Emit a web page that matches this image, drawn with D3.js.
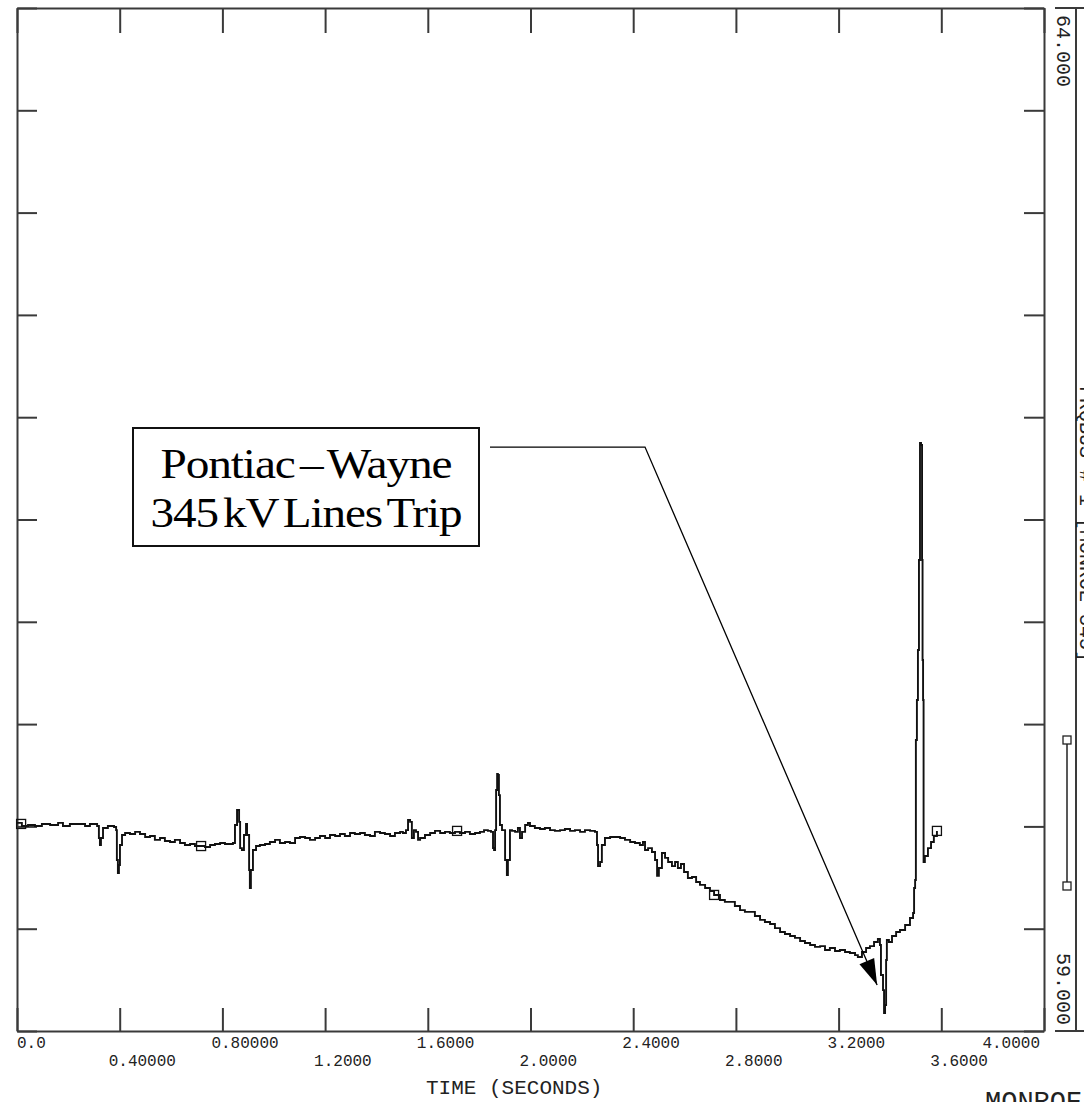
<!DOCTYPE html>
<html>
<head>
<meta charset="utf-8">
<script src="https://cdn.jsdelivr.net/npm/d3@7"></script>
<style>
  html, body { margin: 0; padding: 0; background: #fff; overflow: hidden; }
  svg { display: block; }
  .mono { font-family: "Liberation Mono", "Courier New", monospace; fill: #222; }
</style>
</head>
<body>
<svg id="chart" width="1084" height="1102"></svg>
<script>
// ---- data (time in seconds, frequency in Hz) ----
const time = [0,0.019,0.043,0.070,0.097,0.129,0.160,0.179,0.206,0.238,0.265,0.284,0.308,0.312,0.319,0.323,0.327,0.335,0.354,0.378,0.386,0.389,0.393,0.397,0.401,0.409,0.421,0.440,0.460,0.479,0.499,0.518,0.537,0.557,0.576,0.596,0.615,0.635,0.654,0.674,0.693,0.713,0.732,0.752,0.771,0.791,0.810,0.830,0.841,0.849,0.857,0.865,0.869,0.876,0.884,0.892,0.896,0.904,0.907,0.911,0.919,0.931,0.946,0.966,0.985,1.005,1.024,1.044,1.063,1.083,1.102,1.122,1.141,1.161,1.180,1.200,1.219,1.239,1.258,1.277,1.297,1.316,1.336,1.355,1.375,1.394,1.414,1.433,1.453,1.472,1.492,1.503,1.515,1.523,1.531,1.538,1.546,1.554,1.562,1.570,1.589,1.609,1.628,1.648,1.667,1.686,1.706,1.725,1.745,1.764,1.784,1.803,1.819,1.834,1.846,1.854,1.858,1.862,1.866,1.870,1.873,1.877,1.881,1.889,1.901,1.908,1.912,1.920,1.928,1.940,1.951,1.959,1.967,1.979,1.990,1.998,2.017,2.037,2.056,2.076,2.095,2.115,2.134,2.154,2.173,2.193,2.212,2.232,2.251,2.259,2.263,2.271,2.278,2.290,2.310,2.329,2.349,2.368,2.388,2.407,2.426,2.438,2.446,2.458,2.473,2.485,2.493,2.500,2.512,2.524,2.536,2.551,2.563,2.574,2.586,2.598,2.613,2.629,2.645,2.660,2.680,2.699,2.715,2.738,2.757,2.777,2.796,2.816,2.835,2.855,2.874,2.894,2.913,2.933,2.952,2.972,2.991,3.011,3.030,3.050,3.069,3.089,3.108,3.128,3.147,3.166,3.186,3.205,3.225,3.244,3.264,3.275,3.291,3.307,3.322,3.338,3.353,3.361,3.365,3.373,3.377,3.381,3.385,3.388,3.396,3.408,3.424,3.439,3.459,3.478,3.490,3.494,3.498,3.501,3.505,3.509,3.513,3.517,3.521,3.525,3.527,3.529,3.531,3.536,3.548,3.560,3.571,3.583];
const freq = [60.017,60.002,60.007,60.002,60.012,60.007,60.017,60.002,60.012,60.012,60.002,60.012,60.012,60.002,59.943,59.909,59.943,59.992,60.002,59.997,59.982,59.836,59.772,59.811,59.909,59.958,59.968,59.963,59.973,59.963,59.948,59.953,59.934,59.943,59.929,59.924,59.934,59.919,59.909,59.914,59.904,59.904,59.899,59.909,59.914,59.919,59.914,59.914,59.919,60.007,60.080,60.022,59.894,59.885,59.958,60.012,59.958,59.787,59.699,59.787,59.885,59.904,59.909,59.914,59.924,59.934,59.919,59.924,59.919,59.943,59.948,59.943,59.934,59.943,59.953,59.943,59.958,59.953,59.963,59.953,59.968,59.963,59.968,59.958,59.953,59.973,59.968,59.963,59.953,59.968,59.973,59.968,59.982,60.031,60.022,59.943,59.982,59.973,59.934,59.943,59.958,59.968,59.978,59.968,59.973,59.968,59.973,59.968,59.973,59.963,59.968,59.973,59.982,59.978,59.973,59.894,59.885,59.982,60.178,60.256,60.251,60.153,60.007,59.982,59.836,59.762,59.836,59.982,59.978,59.973,59.992,59.943,59.973,60.007,60.017,60.002,59.992,59.987,59.992,59.982,59.978,59.982,59.987,59.978,59.982,59.973,59.982,59.978,59.973,59.909,59.806,59.826,59.909,59.943,59.948,59.948,59.943,59.934,59.924,59.919,59.909,59.924,59.885,59.894,59.875,59.836,59.758,59.797,59.870,59.846,59.826,59.806,59.826,59.797,59.816,59.777,59.748,59.753,59.728,59.714,59.699,59.684,59.665,59.640,59.631,59.631,59.611,59.591,59.582,59.582,59.562,59.543,59.533,59.523,59.503,59.484,59.474,59.464,59.455,59.440,59.430,59.420,59.411,59.415,59.396,59.406,59.391,59.396,59.386,59.381,59.371,59.362,59.386,59.406,59.415,59.435,59.450,59.420,59.274,59.200,59.088,59.127,59.347,59.445,59.435,59.464,59.484,59.494,59.518,59.552,59.577,59.699,59.738,60.422,60.618,60.862,61.302,61.874,61.864,61.302,60.813,60.618,59.826,59.855,59.894,59.924,59.953,59.978];

// symbol markers placed on the trace
const markerTime = [0.016, 0.717, 1.714, 2.715, 3.583];
const markerFreq = [60.012, 59.904, 59.978, 59.665, 59.978];

// axis ticks and labels
const xTicks = [0, 0.4, 0.8, 1.2, 1.6, 2.0, 2.4, 2.8, 3.2, 3.6, 4.0];
const xTickLabels = ["0.0", "0.40000", "0.80000", "1.2000", "1.6000", "2.0000", "2.4000", "2.8000", "3.2000", "3.6000", "4.0000"];
const yTicks = [59, 59.5, 60, 60.5, 61, 61.5, 62, 62.5, 63, 63.5, 64];
const yMinLabel = "59.000";
const yMaxLabel = "64.000";
const xTitle = "TIME (SECONDS)";
const channelLabel = "FRQBUS # 1  [MONROE 345]";
const footerText = "MONROE";
const annotationLines = ["Pontiac \u2013 Wayne", "345 kV Lines Trip"];
const annotationTarget = { t: 3.350, f: 59.225 };
const annotationElbow = { t: 2.446, f: 61.854 };

// ---- drawing ----
const svg = d3.select("#chart");
const L = 17, R = 1044, T = 8, B = 1031;
const x = d3.scaleLinear().domain([0, 4]).range([L, R]);
const y = d3.scaleLinear().domain([59, 64]).range([B, T]);
const axisColor = "#3a3a3a";

function styleAxis(g) {
  g.selectAll(".domain").attr("stroke", axisColor).attr("stroke-width", 2);
  g.selectAll(".tick line").attr("stroke", axisColor).attr("stroke-width", 2);
  g.selectAll(".tick text").remove();
}

svg.append("g").attr("transform", `translate(0,${B})`)
  .call(d3.axisBottom(x).tickValues(xTicks).tickSizeInner(-23).tickSizeOuter(0).tickFormat(""))
  .call(styleAxis);
svg.append("g").attr("transform", `translate(0,${T})`)
  .call(d3.axisTop(x).tickValues(xTicks).tickSizeInner(-25).tickSizeOuter(0).tickFormat(""))
  .call(styleAxis);
svg.append("g").attr("transform", `translate(${L},0)`)
  .call(d3.axisLeft(y).tickValues(yTicks).tickSizeInner(-20).tickSizeOuter(0).tickFormat(""))
  .call(styleAxis);
svg.append("g").attr("transform", `translate(${R},0)`)
  .call(d3.axisRight(y).tickValues(yTicks).tickSizeInner(-20).tickSizeOuter(0).tickFormat(""))
  .call(styleAxis);

// x tick labels, alternating two rows
svg.append("g").selectAll("text").data(xTicks).join("text")
  .attr("class", "mono")
  .attr("font-size", 16)
  .attr("x", (d, i) => i === 0 ? x(d) : (i === xTicks.length - 1 ? x(d) - 4 : x(d) - 11))
  .attr("text-anchor", (d, i) => i === xTicks.length - 1 ? "end" : "start")
  .attr("y", (d, i) => i % 2 === 0 ? 1048 : 1066)
  .text((d, i) => xTickLabels[i]);

svg.append("text").attr("class", "mono").attr("font-size", 21)
  .attr("x", 426).attr("y", 1094).text(xTitle);

// right secondary scale bar
const sx = 1076;
svg.append("line").attr("x1", sx).attr("x2", sx).attr("y1", y(64)).attr("y2", y(59))
  .attr("stroke", axisColor).attr("stroke-width", 2);
[64, 59].forEach(v => {
  svg.append("line").attr("x1", 1055).attr("x2", 1084).attr("y1", y(v)).attr("y2", y(v))
    .attr("stroke", axisColor).attr("stroke-width", 2);
});
svg.append("text").attr("class", "mono").attr("font-size", 20)
  .attr("transform", `translate(1057,${y(64) + 7}) rotate(90)`)
  .text(yMaxLabel);
svg.append("text").attr("class", "mono").attr("font-size", 20)
  .attr("text-anchor", "end")
  .attr("transform", `translate(1057,${y(59) - 6}) rotate(90)`)
  .text(yMinLabel);
svg.append("text").attr("class", "mono").attr("font-size", 20)
  .attr("transform", `translate(1080,386) rotate(90)`)
  .text(channelLabel);

// legend pen indicator
const legTop = 740, legBot = 886, legX = 1067;
svg.append("line").attr("x1", legX).attr("x2", legX).attr("y1", legTop).attr("y2", legBot)
  .attr("stroke", "#222").attr("stroke-width", 1.5);
[legTop, legBot].forEach(yy => {
  svg.append("rect").attr("x", legX - 4).attr("y", yy - 4).attr("width", 8).attr("height", 8)
    .attr("fill", "#fff").attr("stroke", "#222").attr("stroke-width", 1.3);
});

// trace
const pts = time.map((t, i) => [t, freq[i]]);
svg.append("path").datum(pts)
  .attr("fill", "none").attr("stroke", "#111").attr("stroke-width", 1.9)
  .attr("stroke-linejoin", "miter")
  .attr("d", d3.line().curve(d3.curveStepAfter).x(d => x(d[0])).y(d => y(d[1])));

svg.append("g").selectAll("rect").data(markerTime).join("rect")
  .attr("x", d => x(d) - 4.5).attr("y", (d, i) => y(markerFreq[i]) - 4.5)
  .attr("width", 9).attr("height", 9)
  .attr("fill", "none").attr("stroke", "#111").attr("stroke-width", 1.3);

// annotation
const box = { x: 133, y: 428, w: 346, h: 118 };
svg.append("rect").attr("x", box.x).attr("y", box.y).attr("width", box.w).attr("height", box.h)
  .attr("fill", "#fff").attr("stroke", "#111").attr("stroke-width", 2);
const lineWidths = [291, 311];
svg.append("g").selectAll("text").data(annotationLines).join("text")
  .attr("x", box.x + box.w / 2).attr("y", (d, i) => i === 0 ? 478 : 527)
  .attr("text-anchor", "middle")
  .attr("font-family", "'Liberation Serif', 'Times New Roman', serif")
  .attr("font-size", 43).attr("letter-spacing", -1).attr("word-spacing", -5)
  .attr("textLength", (d, i) => lineWidths[i])
  .attr("lengthAdjust", "spacingAndGlyphs")
  .attr("fill", "#000")
  .text(d => d);

const ex = x(annotationElbow.t), ey = y(annotationElbow.f);
const tx = x(annotationTarget.t), ty = y(annotationTarget.f);
svg.append("polyline")
  .attr("points", `490,${ey} ${ex},${ey} ${tx},${ty}`)
  .attr("fill", "none").attr("stroke", "#000").attr("stroke-width", 1.3);
{
  const ang = Math.atan2(ty - ey, tx - ex);
  const len = 26, hw = 8;
  const bx = tx - len * Math.cos(ang), by = ty - len * Math.sin(ang);
  const px = -Math.sin(ang) * hw, py = Math.cos(ang) * hw;
  svg.append("polygon")
    .attr("points", `${tx},${ty} ${bx + px},${by + py} ${bx - px},${by - py}`)
    .attr("fill", "#000");
}

// footer (cut off at the bottom edge)
svg.append("text").attr("class", "mono").attr("font-size", 27)
  .attr("x", 985).attr("y", 1110).text(footerText);
</script>
</body>
</html>
